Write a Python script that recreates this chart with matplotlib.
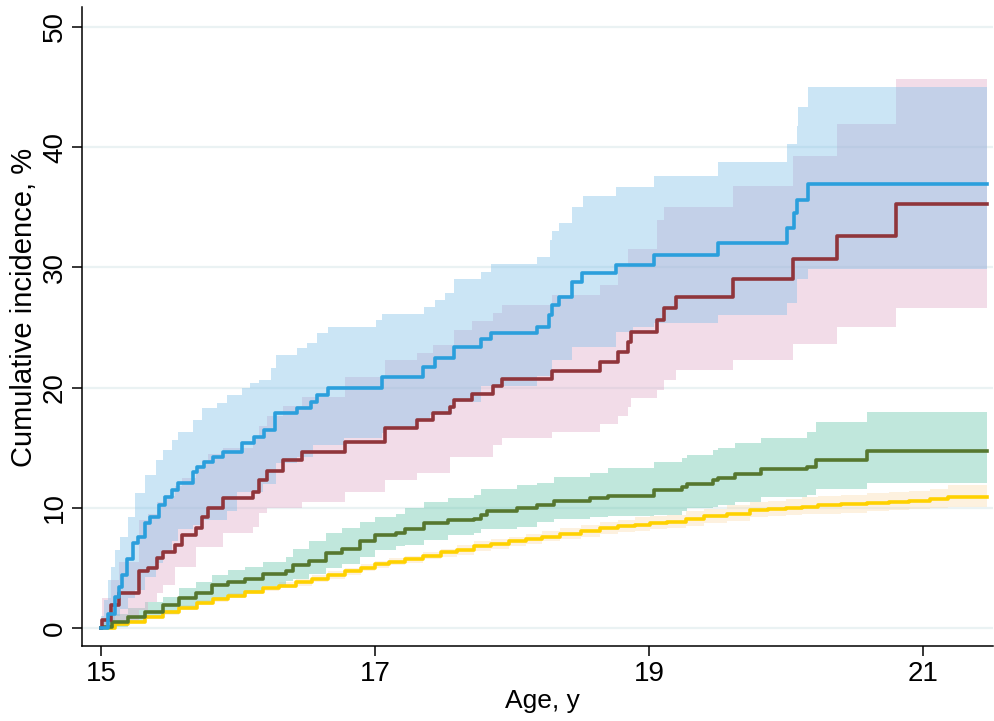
import numpy as np
import matplotlib.pyplot as plt

plt.rcParams['font.family'] = ['Liberation Sans', 'DejaVu Sans']

END_AGE = 21.47

# Blue group: estimate and 95% band (step functions)
blue_t = [15.00, 15.05, 15.10, 15.13, 15.15, 15.19, 15.23, 15.27, 15.32, 15.36,
          15.42, 15.47, 15.52, 15.56, 15.67, 15.70, 15.75, 15.82, 15.89, 16.03,
          16.12, 16.19, 16.27, 16.43, 16.53, 16.58, 16.66, 17.05, 17.35, 17.44,
          17.58, 17.77, 17.85, 18.18, 18.27, 18.29, 18.34, 18.44, 18.51, 18.76,
          19.04, 19.50, 20.01, 20.06, 20.08, 20.16]
blue_y = [0.0, 1.2, 2.6, 3.4, 4.4, 5.7, 7.1, 7.6, 8.7, 9.2,
          10.2, 10.9, 11.5, 12.1, 13.0, 13.4, 13.8, 14.2, 14.6, 15.4,
          15.9, 16.5, 17.9, 18.3, 18.8, 19.4, 20.0, 20.9, 21.7, 22.5,
          23.4, 24.0, 24.5, 25.0, 26.0, 26.9, 27.5, 28.8, 29.5, 30.2,
          31.0, 32.0, 33.3, 34.5, 35.6, 36.9]

blue_ci_t = [15.00, 15.02, 15.05, 15.07, 15.10, 15.14, 15.20, 15.25, 15.32, 15.40,
             15.45, 15.52, 15.56, 15.67, 15.74, 15.85, 15.92, 15.99, 16.03, 16.09,
             16.15, 16.18, 16.24, 16.28, 16.43, 16.50, 16.55, 16.58, 16.66, 16.77,
             17.01, 17.05, 17.08, 17.31, 17.36, 17.40, 17.44, 17.51, 17.56, 17.58,
             17.71, 17.77, 17.85, 18.18, 18.28, 18.29, 18.34, 18.44, 18.52, 18.76,
             18.88, 19.04, 19.50, 20.01, 20.08, 20.09, 20.16]
blue_hi = [1.0, 2.3, 4.0, 5.1, 6.5, 7.6, 9.2, 11.2, 12.7, 14.0,
           14.8, 15.6, 16.3, 17.3, 18.3, 18.7, 19.4, 19.4, 20.0, 20.4,
           20.6, 20.6, 21.6, 22.7, 23.3, 23.7, 23.7, 24.5, 25.0, 25.0,
           25.6, 26.1, 26.1, 26.1, 26.7, 26.7, 27.3, 27.9, 27.9, 29.0,
           29.0, 29.6, 30.3, 30.9, 32.3, 33.0, 33.7, 35.0, 35.9, 36.7,
           36.7, 37.6, 38.8, 40.3, 41.8, 43.3, 45.0]
blue_lo = [0.0, 0.2, 0.4, 0.6, 1.0, 1.6, 2.5, 3.2, 4.2, 5.4,
           6.2, 7.2, 8.2, 8.6, 9.0, 9.0, 9.7, 11.3, 11.3, 11.3,
           11.3, 12.0, 12.0, 13.7, 14.2, 14.2, 15.2, 15.2, 15.2, 15.8,
           15.8, 16.2, 16.7, 17.2, 17.2, 17.7, 17.7, 17.7, 18.2, 18.8,
           18.8, 20.1, 20.1, 21.0, 21.0, 22.3, 22.3, 23.4, 23.4, 24.6,
           25.0, 25.4, 26.0, 27.0, 29.0, 29.0, 29.9]

# Red group
red_t = [15.00, 15.01, 15.07, 15.13, 15.28, 15.34, 15.41, 15.45, 15.54, 15.59,
         15.69, 15.74, 15.78, 15.89, 16.11, 16.15, 16.21, 16.33, 16.47, 16.78,
         17.07, 17.31, 17.42, 17.55, 17.58, 17.71, 17.86, 17.93, 18.29, 18.64,
         18.77, 18.85, 18.87, 19.06, 19.11, 19.20, 19.61, 20.05, 20.37, 20.80]
red_y = [0.0, 0.7, 1.9, 2.9, 4.7, 5.0, 5.8, 6.3, 6.9, 7.7,
         8.3, 9.2, 10.0, 10.8, 11.3, 12.3, 13.1, 14.0, 14.6, 15.5,
         16.6, 17.3, 17.9, 18.4, 19.0, 19.5, 20.1, 20.7, 21.4, 22.1,
         23.0, 23.8, 24.6, 25.6, 26.6, 27.5, 29.0, 30.7, 32.6, 35.3]
red_hi = [0.5, 2.5, 4.0, 5.5, 9.0, 9.5, 10.5, 11.0, 11.8, 12.5,
          13.5, 14.0, 14.5, 15.0, 15.8, 16.8, 17.6, 18.5, 19.2, 20.9,
          22.3, 22.9, 23.5, 23.5, 24.8, 25.5, 26.2, 26.9, 27.7, 28.5,
          30.0, 31.5, 31.5, 33.9, 35.0, 35.0, 36.8, 39.3, 41.9, 45.7]
red_lo = [0.0, 0.0, 0.2, 0.5, 1.5, 2.2, 2.9, 3.6, 5.1, 5.1,
          6.7, 6.7, 6.7, 7.9, 8.4, 9.6, 10.0, 10.0, 10.5, 11.3,
          12.3, 12.9, 12.9, 14.2, 14.2, 14.2, 15.2, 15.8, 16.3, 17.0,
          17.6, 18.4, 19.1, 19.8, 20.6, 21.5, 22.3, 23.6, 25.0, 26.6]

# Green group
green_t = [15.00, 15.01, 15.08, 15.20, 15.32, 15.45, 15.57, 15.69, 15.81, 15.93,
           16.05, 16.18, 16.35, 16.40, 16.52, 16.64, 16.76, 16.89, 17.00, 17.15,
           17.22, 17.36, 17.53, 17.72, 17.77, 17.82, 18.04, 18.18, 18.31, 18.57,
           18.70, 19.04, 19.24, 19.28, 19.47, 19.50, 19.63, 19.82, 20.15, 20.22,
           20.59]
green_y = [0.0, 0.1, 0.5, 0.9, 1.3, 1.9, 2.5, 2.9, 3.6, 3.8,
           4.1, 4.5, 4.7, 5.2, 5.6, 6.2, 6.6, 7.2, 7.7, 7.9,
           8.2, 8.7, 9.0, 9.1, 9.4, 9.7, 10.0, 10.2, 10.6, 10.8,
           11.0, 11.5, 11.7, 12.0, 12.3, 12.5, 12.8, 13.2, 13.4, 14.0,
           14.7]
green_hi = [0.3, 0.6, 1.2, 1.7, 2.2, 2.6, 3.3, 3.8, 4.4, 4.8,
            5.1, 5.5, 5.9, 6.6, 7.2, 7.9, 8.3, 8.8, 9.2, 9.5,
            10.0, 10.5, 10.8, 11.1, 11.6, 11.6, 11.9, 12.1, 12.6, 12.9,
            13.3, 13.8, 14.1, 14.4, 14.8, 15.0, 15.4, 15.8, 16.3, 17.1,
            18.0]
green_lo = [0.0, 0.0, 0.1, 0.5, 0.8, 1.2, 1.6, 2.0, 2.4, 2.7,
            3.1, 3.5, 3.9, 4.1, 4.5, 5.0, 5.3, 5.9, 6.5, 6.8,
            6.9, 7.3, 7.7, 7.9, 8.2, 8.2, 8.4, 8.8, 9.1, 9.2,
            9.3, 9.4, 9.7, 10.0, 10.1, 10.2, 10.5, 10.9, 11.1, 11.6,
            12.1]

# Yellow group (reference)
yellow_t = [15.00, 15.10, 15.20, 15.32, 15.45, 15.57, 15.70, 15.82, 15.93, 16.05,
            16.18, 16.30, 16.42, 16.54, 16.66, 16.78, 16.90, 17.00, 17.10, 17.22,
            17.35, 17.48, 17.60, 17.72, 17.85, 17.98, 18.10, 18.22, 18.35, 18.50,
            18.64, 18.77, 18.90, 19.01, 19.13, 19.27, 19.40, 19.57, 19.74, 19.87,
            20.00, 20.12, 20.23, 20.40, 20.59, 20.75, 20.90, 21.05, 21.18]
yellow_y = [0.0, 0.3, 0.5, 0.9, 1.3, 1.7, 2.1, 2.4, 2.7, 3.0,
            3.3, 3.5, 3.8, 4.1, 4.4, 4.7, 5.0, 5.3, 5.5, 5.7,
            6.0, 6.3, 6.5, 6.8, 7.0, 7.2, 7.4, 7.6, 7.8, 8.1,
            8.3, 8.5, 8.6, 8.7, 8.8, 9.1, 9.3, 9.5, 9.8, 9.9,
            10.0, 10.1, 10.2, 10.3, 10.4, 10.5, 10.6, 10.7, 10.9]
yellow_hi = [0.0, 0.4, 0.6, 1.0, 1.5, 1.9, 2.3, 2.6, 2.9, 3.2,
             3.5, 3.8, 4.1, 4.4, 4.7, 5.0, 5.3, 5.6, 5.8, 6.0,
             6.3, 6.6, 6.9, 7.2, 7.4, 7.6, 7.8, 8.1, 8.3, 8.6,
             8.8, 9.0, 9.2, 9.3, 9.4, 9.7, 9.9, 10.2, 10.5, 10.6,
             10.7, 10.9, 11.0, 11.1, 11.2, 11.3, 11.4, 11.6, 11.9]
yellow_lo = [0.0, 0.2, 0.4, 0.8, 1.1, 1.5, 1.9, 2.2, 2.5, 2.8,
             3.1, 3.3, 3.5, 3.8, 4.1, 4.4, 4.7, 5.0, 5.2, 5.4,
             5.7, 5.9, 6.1, 6.4, 6.6, 6.8, 7.0, 7.2, 7.4, 7.6,
             7.8, 8.0, 8.1, 8.2, 8.3, 8.5, 8.7, 8.9, 9.2, 9.3,
             9.4, 9.5, 9.5, 9.6, 9.7, 9.8, 9.9, 10.0, 10.1]

x_ticks = [15, 17, 19, 21]
y_ticks = [0, 10, 20, 30, 40, 50]


def extend(t, *series):
    # carry the last value out to the end of follow-up
    out = [np.append(t, END_AGE)]
    for s in series:
        out.append(np.append(s, s[-1]))
    return out


fig = plt.figure(figsize=(9.94, 7.21), dpi=100)
ax = fig.add_axes([82 / 994, 1 - 646 / 721, 911 / 994, 639 / 721])

for yv in y_ticks:
    ax.axhline(yv, color='#eaf2f3', lw=1.6, zorder=0)

bands = [
    (yellow_t, yellow_lo, yellow_hi, '#fbd9a6', 0.35),
    (green_t, green_lo, green_hi, '#62c3a8', 0.40),
    (red_t, red_lo, red_hi, '#dfa8c6', 0.40),
    (blue_ci_t, blue_lo, blue_hi, '#7dbee8', 0.40),
]
for t, lo, hi, col, a in bands:
    tt, ll, hh = extend(t, lo, hi)
    ax.fill_between(tt, ll, hh, step='post', color=col, alpha=a, lw=0, zorder=1)

lines = [
    (yellow_t, yellow_y, '#ffd100'),
    (green_t, green_y, '#56772f'),
    (red_t, red_y, '#90353b'),
    (blue_t, blue_y, '#2b9fdc'),
]
for t, y, col in lines:
    tt, yy = extend(t, y)
    ax.plot(tt, yy, drawstyle='steps-post', color=col, lw=2.6, zorder=3)

ax.set_xlim(14.861, 21.511)
ax.set_ylim(-1.50, 51.66)
ax.set_xticks(x_ticks)
ax.set_yticks(y_ticks)
ax.tick_params(axis='both', direction='out', length=7, width=1.1, labelsize=20, color='black')
ax.tick_params(axis='x', pad=4)
ax.tick_params(axis='y', pad=3)
for lab in ax.get_yticklabels():
    lab.set_rotation(90)
    lab.set_va('center')

for side in ['top', 'right']:
    ax.spines[side].set_visible(False)
for side in ['left', 'bottom']:
    ax.spines[side].set_linewidth(1.1)

ax.set_xlabel('Age, y', fontsize=19, va='center', ha='center')
ax.xaxis.set_label_coords((542 - 82) / 911, (646 - 701) / 639)
ax.set_ylabel('Cumulative incidence, %', fontsize=21, va='center', ha='center')
ax.yaxis.set_label_coords((24 - 82) / 911, (646 - 307) / 639)

fig.savefig('out.png', dpi=100)
